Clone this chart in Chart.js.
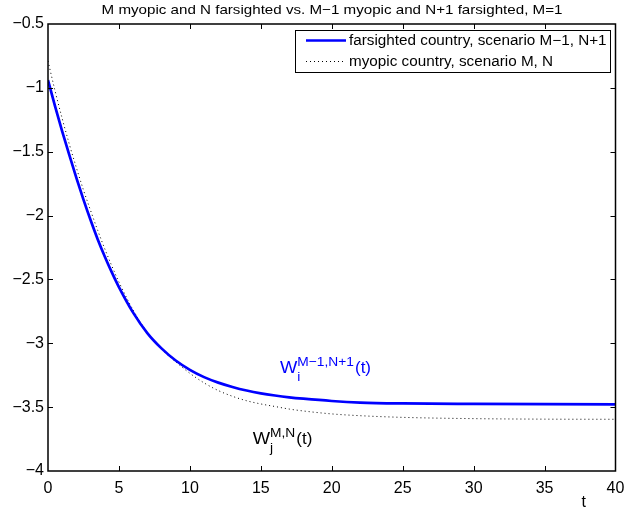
<!DOCTYPE html>
<html>
<head>
<meta charset="utf-8">
<script src="https://cdn.jsdelivr.net/npm/chart.js@4.4.1/dist/chart.umd.min.js"></script>
<style>
    html, body { margin: 0; padding: 0; background: #fff; }
    #wrap { width: 626px; height: 514px; }
</style>
</head>
<body>
<div id="wrap"><canvas id="chart" width="626" height="514"></canvas></div>
<script>
// time axis samples
const tValues = [0, 0.5, 1, 1.5, 2, 2.5, 3, 3.5, 4, 4.5, 5, 6, 7, 8, 9, 10, 11, 12, 13, 14, 15, 16, 17, 18, 20, 22, 25, 30, 35, 40];

// farsighted country, scenario M-1, N+1
const farsighted = [-0.94, -1.145, -1.34, -1.525, -1.705, -1.875, -2.035, -2.185, -2.32, -2.445, -2.56, -2.76, -2.92, -3.04, -3.135, -3.208, -3.265, -3.308, -3.342, -3.37, -3.392, -3.409, -3.423, -3.434, -3.452, -3.464, -3.471, -3.475, -3.477, -3.478];

// myopic country, scenario M, N
const myopic = [-0.79, -1.025, -1.24, -1.44, -1.625, -1.80, -1.96, -2.115, -2.26, -2.395, -2.52, -2.74, -2.915, -3.045, -3.145, -3.235, -3.31, -3.37, -3.415, -3.45, -3.475, -3.495, -3.515, -3.53, -3.553, -3.567, -3.58, -3.59, -3.594, -3.595];

const xTicks = [0, 5, 10, 15, 20, 25, 30, 35, 40];
const yTicks = [-4, -3.5, -3, -2.5, -2, -1.5, -1, -0.5];

const seriesLabels = ['farsighted country, scenario M\u22121, N+1', 'myopic country, scenario M, N'];
const titleText = 'M myopic and N farsighted vs. M\u22121 myopic and N+1 farsighted, M=1';

const FONT = '"Liberation Sans", Arial, Helvetica, sans-serif';

const toPoints = (ys) => ys.map((y, i) => ({ x: tValues[i], y: y }));
const fmt = (v) => String(v).replace('-', '\u2212');

// text drawn a bit wider, like the original export
function wideText(ctx, text, x, y, stretch) {
    ctx.save();
    ctx.translate(x, y);
    ctx.scale(stretch, 1);
    ctx.fillText(text, 0, 0);
    ctx.restore();
}

function drawTexLabel(ctx, x, y, sup, sub, color) {
    ctx.fillStyle = color;
    ctx.textAlign = 'left';
    ctx.textBaseline = 'alphabetic';
    ctx.font = '17px ' + FONT;
    wideText(ctx, 'W', x, y, 1.08);
    const w = ctx.measureText('W').width * 1.08;
    ctx.font = '13px ' + FONT;
    wideText(ctx, sup, x + w, y - 7, 1.06);
    const supW = ctx.measureText(sup).width * 1.06;
    wideText(ctx, sub, x + w, y + 8, 1.06);
    ctx.font = '17px ' + FONT;
    wideText(ctx, '(t)', x + w + supW + 1, y, 1.0);
}

// MATLAB-like frame: box, inward ticks, title, legend, annotations
const matlabFrame = {
    id: 'matlabFrame',
    afterDraw(chart) {
        const ctx = chart.ctx;
        const a = chart.chartArea;
        const xs = chart.scales.x;
        const ys = chart.scales.y;
        const tl = 5;

        ctx.save();
        ctx.strokeStyle = '#000';
        ctx.lineWidth = 1;
        ctx.beginPath();
        xTicks.forEach(v => {
            const px = Math.round(xs.getPixelForValue(v)) + 0.5;
            if (v !== xTicks[0] && v !== xTicks[xTicks.length - 1]) {
                ctx.moveTo(px, a.bottom); ctx.lineTo(px, a.bottom - tl);
                ctx.moveTo(px, a.top); ctx.lineTo(px, a.top + tl);
            }
        });
        yTicks.forEach(v => {
            const py = Math.round(ys.getPixelForValue(v)) + 0.5;
            if (v !== yTicks[0] && v !== yTicks[yTicks.length - 1]) {
                ctx.moveTo(a.left, py); ctx.lineTo(a.left + tl, py);
                ctx.moveTo(a.right, py); ctx.lineTo(a.right - tl, py);
            }
        });
        ctx.stroke();

        ctx.lineWidth = 1.5;
        ctx.strokeRect(a.left, a.top, a.right - a.left, a.bottom - a.top);

        // title
        ctx.fillStyle = '#000';
        ctx.font = '13px ' + FONT;
        ctx.textAlign = 'left';
        ctx.textBaseline = 'alphabetic';
        const tw = ctx.measureText(titleText).width * 1.165;
        wideText(ctx, titleText, 332 - tw / 2, 14, 1.165);

        // x axis label
        ctx.font = '16px ' + FONT;
        ctx.fillText('t', xs.getPixelForValue(37.6), ys.getPixelForValue(-4.285));

        // curve annotations
        drawTexLabel(ctx, xs.getPixelForValue(16.35), ys.getPixelForValue(-3.233), 'M\u22121,N+1', 'i', '#0000ff');
        drawTexLabel(ctx, xs.getPixelForValue(14.43), ys.getPixelForValue(-3.786), 'M,N', 'j', '#000');

        // legend box
        const lx = 295, ly = 30, lw = 315, lh = 42;
        ctx.fillStyle = '#fff';
        ctx.fillRect(lx, ly, lw, lh);
        ctx.strokeStyle = '#000';
        ctx.lineWidth = 1;
        ctx.strokeRect(lx + 0.5, ly + 0.5, lw, lh);
        chart.data.datasets.forEach((ds, i) => {
            const cy = ly + 10 + i * 21;
            ctx.beginPath();
            ctx.strokeStyle = ds.borderColor;
            ctx.lineWidth = ds.borderWidth;
            ctx.setLineDash(ds.borderDash || []);
            ctx.moveTo(lx + 11, cy + 0.5);
            ctx.lineTo(lx + 51, cy + 0.5);
            ctx.stroke();
            ctx.setLineDash([]);
            ctx.fillStyle = '#000';
            ctx.font = '14px ' + FONT;
            ctx.textBaseline = 'middle';
            wideText(ctx, ds.label, lx + 54, cy + 1, 1.09);
        });
        ctx.restore();
    }
};

new Chart(document.getElementById('chart'), {
    type: 'line',
    data: {
        datasets: [
            {
                label: seriesLabels[0],
                data: toPoints(farsighted),
                borderColor: '#0000ff',
                borderWidth: 2.7,
                pointRadius: 0,
                fill: false,
                cubicInterpolationMode: 'monotone'
            },
            {
                label: seriesLabels[1],
                data: toPoints(myopic),
                borderColor: '#000',
                borderWidth: 1,
                borderDash: [1, 3],
                pointRadius: 0,
                fill: false,
                cubicInterpolationMode: 'monotone'
            }
        ]
    },
    options: {
        responsive: false,
        animation: false,
        layout: { padding: { top: 24, right: 10.5, left: 0, bottom: 0 } },
        plugins: {
            legend: { display: false },
            tooltip: { enabled: false }
        },
        scales: {
            x: {
                type: 'linear',
                min: 0,
                max: 40,
                afterBuildTicks: (s) => { s.ticks = xTicks.map(v => ({ value: v })); },
                afterFit: (s) => { s.height = 43; s.paddingRight = 0; s.paddingLeft = 0; },
                grid: { display: false, drawTicks: false },
                border: { display: false },
                ticks: {
                    color: '#000',
                    padding: 8,
                    maxRotation: 0,
                    font: { family: FONT, size: 16 },
                    callback: (v) => fmt(v)
                }
            },
            y: {
                type: 'linear',
                min: -4,
                max: -0.5,
                afterBuildTicks: (s) => { s.ticks = yTicks.map(v => ({ value: v })); },
                afterFit: (s) => { s.width = 48; s.paddingTop = 0; s.paddingBottom = 0; },
                grid: { display: false, drawTicks: false },
                border: { display: false },
                ticks: {
                    color: '#000',
                    padding: 4,
                    font: { family: FONT, size: 16 },
                    callback: (v) => fmt(v)
                }
            }
        }
    },
    plugins: [matlabFrame]
});
</script>
</body>
</html>
